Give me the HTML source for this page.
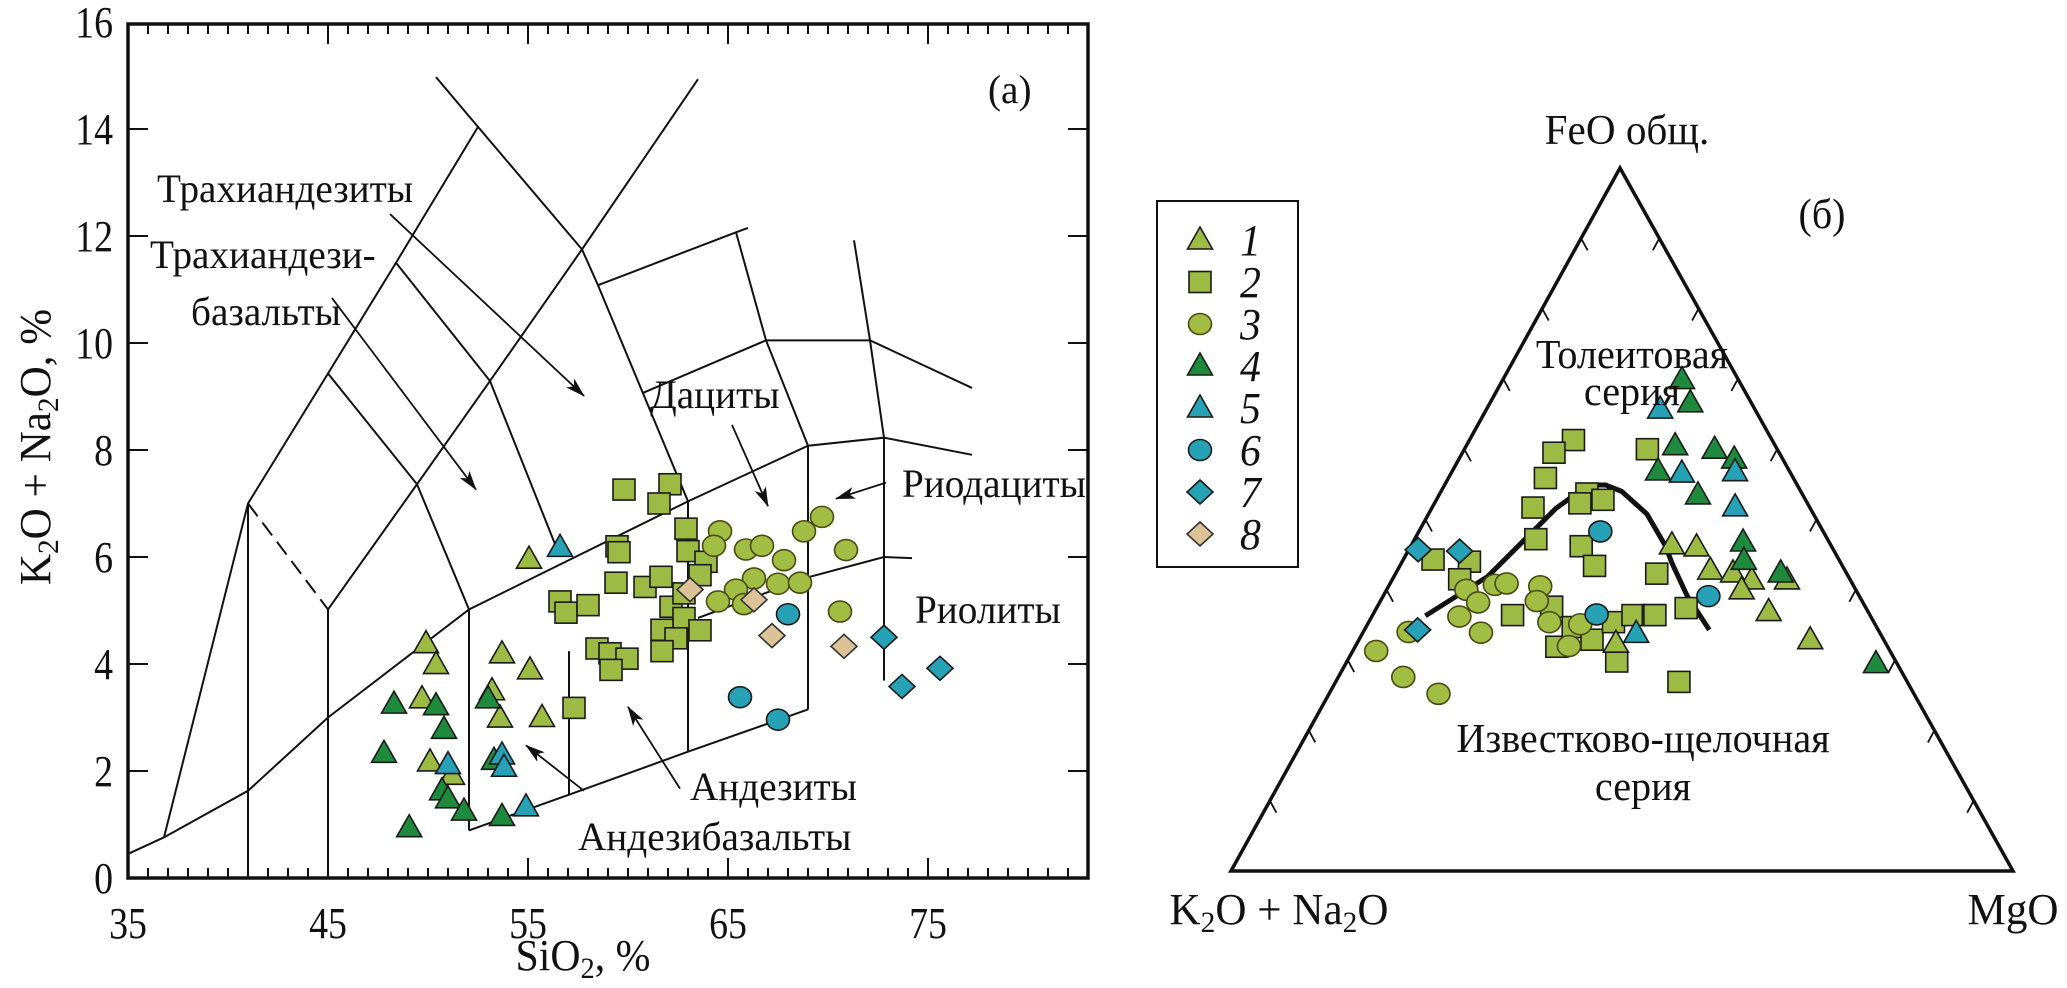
<!DOCTYPE html>
<html><head><meta charset="utf-8">
<style>
html,body{margin:0;padding:0;background:#fff;}
svg{display:block;}
text{font-family:"Liberation Serif","DejaVu Serif",serif;fill:#111;}
</style></head>
<body>
<svg id="fig" width="2067" height="988" viewBox="0 0 2067 988" xmlns="http://www.w3.org/2000/svg">
<defs>
<marker id="arr" viewBox="0 0 20 12" refX="19" refY="6" markerWidth="20" markerHeight="12" markerUnits="userSpaceOnUse" orient="auto">
<path d="M0,0 L20,6 L0,12 L5,6 Z" fill="#111"/>
</marker>
</defs>
<g id="chartA"></g>
<g id="chartB"></g>
</svg>
<script>
// ===== Chart (a) data: SiO2 vs K2O+Na2O =====
const xTicks = [35,45,55,65,75];
const yTicks = [0,2,4,6,8,10,12,14,16];
const s1Si = [55.05,49.9,50.4,49.7,53.7,55.1,53.2,53.6,55.7,50.1,51.2];
const s1Alk = [5.96,4.38,3.99,3.35,4.19,3.89,3.5,2.99,3.0,2.17,1.92];
const s2Si = [59.8,62.1,61.55,62.9,59.45,59.55,63.0,63.9,59.4,60.85,61.65,63.6,62.15,62.8,62.8,56.6,56.9,58.0,61.7,63.6,62.4,58.45,59.1,59.95,59.15,61.7,57.3];
const s2Alk = [7.26,7.36,7.0,6.53,6.2,6.09,6.11,5.91,5.52,5.44,5.63,5.66,5.07,4.86,5.32,5.17,4.96,5.1,4.64,4.63,4.48,4.29,4.2,4.1,3.89,4.24,3.18];
const s3Si = [64.6,64.3,65.9,66.7,67.8,68.8,69.7,70.9,66.3,67.5,68.6,65.4,64.5,65.8,70.6];
const s3Alk = [6.48,6.21,6.14,6.21,5.94,6.48,6.75,6.13,5.6,5.5,5.52,5.39,5.17,5.12,4.98];
const s4Si = [48.3,50.4,50.8,47.8,53.0,53.3,50.7,51.0,51.8,49.06,53.7];
const s4Alk = [3.25,3.22,2.78,2.33,3.35,2.2,1.63,1.48,1.25,0.94,1.15];
const s5Si = [56.6,51.0,53.7,53.8,54.9];
const s5Alk = [6.18,2.12,2.3,2.07,1.33];
const s6Si = [68.0,65.6,67.5];
const s6Alk = [4.93,3.38,2.96];
const s7Si = [72.8,73.7,75.6];
const s7Alk = [4.5,3.58,3.92];
const s8Si = [63.1,66.3,67.2,70.8];
const s8Alk = [5.39,5.2,4.53,4.33];
// classification boundaries (data units)
const boundaries = [
 [[35,0.45],[36.8,0.76],[41,1.63],[45,3.0],[52.05,5.02],[63,7.04],[69,8.08],[72.8,8.23],[77.2,7.91]],
 [[36.8,0.76],[41,7.0],[45,9.43],[48.4,11.5],[52.5,14.04],[57.7,11.75],[58.5,11.08],[63.0,7.04],[63,2.36]],
 [[50.4,14.97],[52.5,14.04]],
 [[45,0],[45,5.02],[49.45,7.36],[53.1,9.29],[57.7,11.75],[63.5,14.93]],
 [[41,0],[41,7]],
 [[45,9.43],[49.45,7.36],[52.05,5.02],[52.05,0.89]],
 [[48.4,11.5],[53.1,9.29],[56.5,6.1]],
 [[58.5,11.08],[65.4,12.07],[66.0,12.15]],
 [[65.4,12.07],[66.9,10.05],[69,8.08],[69,3.15]],
 [[60.7,9.06],[66.9,10.05],[72.1,10.05],[77.2,9.16]],
 [[71.3,11.92],[72.1,10.05],[72.8,8.23],[72.8,3.69]],
 [[63.5,4.86],[69,5.62],[72.8,6.0],[74.2,5.98]],
 [[52.05,0.89],[57,1.55],[63,2.36],[69,3.15]],
 [[57.05,1.55],[57.05,4.24]]
];
const dashedBoundary = [[41,7],[45,5.02]];
const arrows = [
 [[48.1,12.41],[57.8,9.01]],
 [[45.2,10.84],[52.4,7.26]],
 [[65.2,8.47],[67.0,6.95]],
 [[72.9,7.39],[70.4,7.09]],
 [[62.6,1.67],[60.0,3.2]],
 [[57.8,1.63],[54.9,2.48]]
];

// ===== Chart (б) data: ternary (FeO %, MgO %) =====
const t1Fe = [46.4,46.1,42.8,42.4,41.4,40.0,41.4,36.9,32.9,32.4];
const t1Mg = [33.3,36.6,40.0,43.1,46.0,45.4,50.5,50.4,57.7,33.1];
const t2Fe = [61.3,59.5,55.9,51.7,53.7,52.8,52.3,47.2,60.0,44.3,44.0,41.5,46.2,43.4,42.3,36.4,37.6,31.9,34.7,32.9,35.4,36.4,29.8,36.4,37.4,36.4,26.9];
const t2Mg = [13.3,11.7,12.4,12.9,18.8,21.3,18.6,15.5,23.4,3.8,8.6,8.6,21.8,24.9,33.4,17.9,22.3,25.8,26.5,29.8,31.3,33.3,34.5,35.9,39.6,36.1,43.9];
const t3Fe = [31.3,27.6,25.2,34.0,40.0,38.2,36.2,33.9,40.7,40.9,40.5,38.4,35.4,35.1,32.0];
const t3Mg = [3.0,8.3,14.0,5.8,10.2,12.6,11.2,15.1,13.5,14.9,19.4,20.0,23.1,27.2,27.3];
const t4Fe = [69.9,66.6,60.5,60.0,58.6,56.9,53.5,46.8,44.2,42.4,29.5];
const t4Mg = [22.9,25.6,26.7,32.0,35.2,26.3,33.1,42.2,43.6,49.2,67.8];
const t5Fe = [65.7,56.6,56.8,51.8,33.8];
const t5Mg = [22.2,29.5,36.2,38.7,35.0];
const t6Fe = [48.3,36.5,39.1];
const t6Mg = [23.2,28.6,41.6];
const t7Fe = [45.7,45.5,34.3];
const t7Mg = [1.2,6.6,6.8];
const divideFe = [36.3,41.9,51.6,54.9,54.9,54.0,50.8,46.2,43.8,39.1,34.3];
const divideMg = [6.8,12.0,15.9,18.4,20.6,23.1,27.9,32.6,34.6,38.9,44.1];
const legendLabels = ["1","2","3","4","5","6","7","8"];

// ===== helpers =====
const NS = "http://www.w3.org/2000/svg";
function mk(tag, attrs, parent){
  const e = document.createElementNS(NS, tag);
  for (const k in attrs) e.setAttribute(k, attrs[k]);
  parent.appendChild(e);
  return e;
}
const A = document.getElementById('chartA');
const B = document.getElementById('chartB');
const X = v => 128 + (v - 35) * 20;
const Y = v => 878 - v * 53.5;

const styles = {
  tri1:{shape:'tri', fill:'#9dbb44', stroke:'#1a1a1a'},
  sq2:{shape:'sq', fill:'#9dbb44', stroke:'#1a1a1a'},
  ci3:{shape:'ci', fill:'#a2bd44', stroke:'#4a4a10'},
  tri4:{shape:'tri', fill:'#1f8a3e', stroke:'#1a1a1a'},
  tri5:{shape:'tri', fill:'#27a1b6', stroke:'#1a1a1a'},
  ci6:{shape:'ci', fill:'#27a1b6', stroke:'#1a1a1a'},
  di7:{shape:'di', fill:'#27a1b6', stroke:'#1a1a1a'},
  di8:{shape:'di', fill:'#dcc397', stroke:'#333'}
};
function marker(st, cx, cy, parent){
  let e;
  if (st.shape==='tri') e = mk('polygon',{points:`${cx-12.5},${cy+9} ${cx+12.5},${cy+9} ${cx},${cy-13}`},parent);
  else if (st.shape==='sq') e = mk('rect',{x:cx-11,y:cy-10.5,width:22,height:21},parent);
  else if (st.shape==='ci') e = mk('ellipse',{cx:cx,cy:cy,rx:11.5,ry:10.5},parent);
  else e = mk('polygon',{points:`${cx},${cy-12} ${cx+13},${cy} ${cx},${cy+12} ${cx-13},${cy}`},parent);
  e.setAttribute('fill', st.fill);
  e.setAttribute('stroke', st.stroke);
  e.setAttribute('stroke-width', 1.6);
  return e;
}
function ctext(x, y, str, size, anchor, parent, opts){
  opts = opts || {};
  const sx = opts.sx || 0.82;
  const t = mk('text',{transform:`translate(${x},${y}) scale(${sx},1)`,'font-size':size,'text-anchor':anchor||'start'},parent);
  if (opts.italic) t.setAttribute('font-style','italic');
  t.textContent = str;
  return t;
}

// ===== Chart (a) =====
boundaries.forEach((ln,i)=>{
  const p = mk('polyline',{points: ln.map(d=>X(d[0])+','+Y(d[1])).join(' '), fill:'none', stroke:'#111','stroke-width':2},A);
  
  
});
const dsh = mk('polyline',{points: dashedBoundary.map(d=>X(d[0])+','+Y(d[1])).join(' '), fill:'none', stroke:'#111','stroke-width':2,'stroke-dasharray':'16,8'},A);


arrows.forEach(a=>{
  const l = mk('line',{x1:X(a[0][0]),y1:Y(a[0][1]),x2:X(a[1][0]),y2:Y(a[1][1]),stroke:'#111','stroke-width':1.8,'marker-end':'url(#arr)'},A);
  
  
});
const frame = mk('rect',{x:128,y:24,width:960,height:854,fill:'none',stroke:'#111','stroke-width':3.5},A);


for (let v=36; v<=82; v++){
  const major = (v%10===5);
  const len = major ? 20 : 10;
  const tb = mk('line',{x1:X(v),y1:878,x2:X(v),y2:878-len,stroke:'#111','stroke-width':2},A);
  
  
  const tt = mk('line',{x1:X(v),y1:24,x2:X(v),y2:24+len,stroke:'#111','stroke-width':2},A);
  
  
}
xTicks.forEach(v=>{
  const t = ctext(X(v), 938, String(v), 44, 'middle', A, {sx:0.86});
  
  
});
yTicks.forEach(v=>{
  if (v>0 && v<16){
    const l1 = mk('line',{x1:128,y1:Y(v),x2:148,y2:Y(v),stroke:'#111','stroke-width':2},A);
    
    
    const l2 = mk('line',{x1:1088,y1:Y(v),x2:1068,y2:Y(v),stroke:'#111','stroke-width':2},A);
    
    
  }
  const t = ctext(113, Y(v)+15, String(v), 44, 'end', A, {sx:0.86});
  
  
});
const yt = mk('text',{transform:'translate(50,447) rotate(-90) scale(0.98,1)','font-size':44,'text-anchor':'middle'},A);


yt.innerHTML = 'K<tspan font-size="30" dy="8">2</tspan><tspan dy="-8">O + Na</tspan><tspan font-size="30" dy="8">2</tspan><tspan dy="-8">O, %</tspan>';
const xt = mk('text',{transform:'translate(583,970) scale(0.95,1)','font-size':44,'text-anchor':'middle'},A);


xt.innerHTML = 'SiO<tspan font-size="30" dy="8">2</tspan><tspan dy="-8">, %</tspan>';
const regionLabels = [
  ['Трахиандезиты',157,202],['Трахиандези-',150,268],['базальты',191,325],
  ['(а)',988,103],['Дациты',650,408],['Риодациты',902,497],['Риолиты',915,623],
  ['Андезиты',690,800],['Андезибазальты',578,850]
];
regionLabels.forEach(r=>{
  const t = ctext(r[1], r[2], r[0], 40, 'start', A, {sx:0.98});
  
  
});
function plotA(si, alk, st, name){
  si.forEach((v,i)=>{
    const m = marker(st, X(v), Y(alk[i]), A);
    
    
  });
}
plotA(s2Si,s2Alk,styles.sq2,'tas-point-group2');
plotA(s3Si,s3Alk,styles.ci3,'tas-point-group3');
plotA(s8Si,s8Alk,styles.di8,'tas-point-group8');
plotA(s1Si,s1Alk,styles.tri1,'tas-point-group1');
plotA(s4Si,s4Alk,styles.tri4,'tas-point-group4');
plotA(s5Si,s5Alk,styles.tri5,'tas-point-group5');
plotA(s6Si,s6Alk,styles.ci6,'tas-point-group6');
plotA(s7Si,s7Alk,styles.di7,'tas-point-group7');

// ===== Chart (б) ternary =====
const VL = [1231,871], VT = [1620,168], VR = [2013,871];
function T(fe, mg){
  return [VL[0] + fe/100*(VT[0]-VL[0]) + mg/100*(VR[0]-VL[0]),
          VL[1] + fe/100*(VT[1]-VL[1]) + mg/100*(VR[1]-VL[1])];
}
const tri = mk('polygon',{points:`${VL} ${VT} ${VR}`,fill:'none',stroke:'#111','stroke-width':3.5,'stroke-linejoin':'miter'},B);


for (let k=1;k<=9;k++){
  const p = T(k*10, 0);
  const tl = mk('line',{x1:p[0],y1:p[1],x2:p[0]+6.5,y2:p[1]+12,stroke:'#111','stroke-width':1.8},B);
  
  
  const q = T(k*10, 100-k*10);
  const tr = mk('line',{x1:q[0],y1:q[1],x2:q[0]-6.5,y2:q[1]+12,stroke:'#111','stroke-width':1.8},B);
  
  
}
const dv = mk('polyline',{points: divideFe.map((f,i)=>T(f,divideMg[i]).join(',')).join(' '),fill:'none',stroke:'#111','stroke-width':5,'stroke-linejoin':'round'},B);


function plotT(fe, mg, st, name){
  fe.forEach((f,i)=>{
    const p = T(f, mg[i]);
    const m = marker(st, p[0], p[1], B);
    
    
  });
}
plotT(t2Fe,t2Mg,styles.sq2,'afm-point-group2');
plotT(t3Fe,t3Mg,styles.ci3,'afm-point-group3');
plotT(t1Fe,t1Mg,styles.tri1,'afm-point-group1');
plotT(t4Fe,t4Mg,styles.tri4,'afm-point-group4');
plotT(t5Fe,t5Mg,styles.tri5,'afm-point-group5');
plotT(t6Fe,t6Mg,styles.ci6,'afm-point-group6');
plotT(t7Fe,t7Mg,styles.di7,'afm-point-group7');
const tl1 = ctext(1627,144,'FeO общ.',42,'middle',B,{sx:0.98});


const tl2 = mk('text',{transform:'translate(1279,924) scale(0.98,1)','font-size':44,'text-anchor':'middle'},B);


tl2.innerHTML = 'K<tspan font-size="30" dy="8">2</tspan><tspan dy="-8">O + Na</tspan><tspan font-size="30" dy="8">2</tspan><tspan dy="-8">O</tspan>';
const tl3 = ctext(2013,924,'MgO',44,'middle',B,{sx:0.98});


const tl4 = ctext(1822,228,'(б)',42,'middle',B,{sx:0.95});


const fieldLabels = [['Толеитовая',1632,368],['серия',1632,405],['Известково-щелочная',1643,752],['серия',1643,800]];
fieldLabels.forEach(r=>{
  const t = ctext(r[1], r[2], r[0], 41, 'middle', B, {sx:0.98});
  
  
});
const lg = mk('g',{},B);


const lbox = mk('rect',{x:1157,y:201,width:141,height:366,fill:'#fff',stroke:'#111','stroke-width':2},lg);


const legendStyles = [styles.tri1,styles.sq2,styles.ci3,styles.tri4,styles.tri5,styles.ci6,styles.di7,styles.di8];
legendLabels.forEach((lab,i)=>{
  const y = 240 + i*42;
  const m = marker(legendStyles[i], 1200, y, lg);
  
  
  const t = ctext(1240, y+15, lab, 44, 'start', lg, {sx:0.95, italic:true});
  
  
});
</script>
</body></html>
